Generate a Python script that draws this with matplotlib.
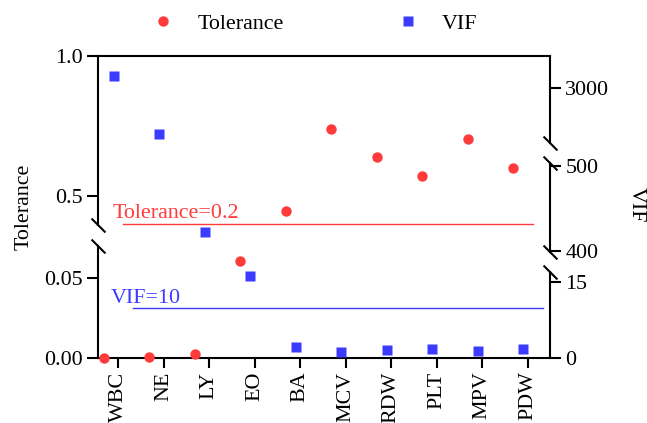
import matplotlib
matplotlib.use("Agg")
import matplotlib.pyplot as plt
from matplotlib.lines import Line2D
import numpy as np

plt.rcParams['font.family'] = ['Liberation Serif', 'DejaVu Serif']
FS = 15.8

# ---------------- data ----------------
categories = ['WBC', 'NE', 'LY', 'EO', 'BA', 'MCV', 'RDW', 'PLT', 'MPV', 'PDW']
tolerance = [0.0003, 0.001, 0.0025, 0.061, 0.446, 0.738, 0.637, 0.569, 0.701, 0.600]
vif = [3117, 2534, 422, 16.2, 2.29, 1.30, 1.64, 1.84, 1.44, 1.78]

left_ticks_top = [0.5, 1.0]
left_labels_top = ['0.5', '1.0']
left_ticks_bot = [0.0, 0.05]
left_labels_bot = ['0.00', '0.05']
right_ticks_top = [3000]
right_ticks_mid = [400, 500]
right_ticks_bot = [0, 15]

tol_ref_label = 'Tolerance=0.2'
tol_ref_y = 0.40        # drawn height on upper tolerance segment
vif_ref_label = 'VIF=10'
vif_ref_y = 10

# ---------------- layout ----------------
W, H = 647, 423
fig = plt.figure(figsize=(W / 100, H / 100), dpi=100)

X0, X1 = 97.7, 550.0


def rect(ytop, ybot):
    return [X0 / W, 1 - ybot / H, (X1 - X0) / W, (ybot - ytop) / H]


xlim = (-0.453, 9.49)
red = '#FF3B3B'
blue = '#3B3BFF'
LW = 1.5

base = fig.add_axes(rect(55.7, 358.3))
base.set_xlim(*xlim)
base.set_ylim(0, 1)
base.patch.set_visible(False)
for s in ['left', 'right']:
    base.spines[s].set_visible(False)
for s in ['top', 'bottom']:
    base.spines[s].set_linewidth(LW)
base.set_yticks([])
base.set_xticks(np.arange(len(categories)))
base.set_xticklabels(categories, rotation=90, fontsize=FS)
base.tick_params(axis='x', direction='out', length=7.5, width=LW, pad=2)

# segments: (ytop_px, ybot_px, ylim, side)
segs = {
    'L_top': (55.7, 225.0, (0.3954, 1.0), 'left'),
    'L_bot': (246.0, 358.3, (0.0, 0.0702), 'left'),
    'R_top': (55.7, 143.0, (2447, 3320), 'right'),
    'R_mid': (163.0, 252.0, (398.5, 503.5), 'right'),
    'R_bot': (272.0, 358.3, (0.0, 17.03), 'right'),
}
axes = {}
for name, (yt, yb, yl, side) in segs.items():
    a = fig.add_axes(rect(yt, yb), sharex=base)
    a.set_ylim(*yl)
    a.patch.set_visible(False)
    for s in ['top', 'bottom', 'left', 'right']:
        a.spines[s].set_visible(s == side)
    a.spines[side].set_linewidth(LW)
    a.tick_params(axis='x', bottom=False, labelbottom=False, top=False)
    if side == 'right':
        a.yaxis.tick_right()
    a.tick_params(axis='y', direction='out', length=8, width=LW, pad=3, labelsize=FS)
    axes[name] = a

axes['L_top'].set_yticks(left_ticks_top)
axes['L_top'].set_yticklabels(left_labels_top)
axes['L_bot'].set_yticks(left_ticks_bot)
axes['L_bot'].set_yticklabels(left_labels_bot)
axes['R_top'].set_yticks(right_ticks_top)
axes['R_mid'].set_yticks(right_ticks_mid)
axes['R_bot'].set_yticks(right_ticks_bot)

# break marks
brk = dict(marker=[(-1, 1), (1, -1)], markersize=10, linestyle='none',
           color='k', mec='k', mew=LW, clip_on=False, zorder=5)
axes['L_top'].plot([0], [0], transform=axes['L_top'].transAxes, **brk)
axes['L_bot'].plot([0], [1], transform=axes['L_bot'].transAxes, **brk)
axes['R_top'].plot([1], [0], transform=axes['R_top'].transAxes, **brk)
axes['R_mid'].plot([1, 1], [0, 1], transform=axes['R_mid'].transAxes, **brk)
axes['R_bot'].plot([1], [1], transform=axes['R_bot'].transAxes, **brk)


def seg_for(value, names):
    for n in names:
        lo, hi = segs[n][2]
        if lo <= value <= hi:
            return axes[n]
    return axes[names[-1]]


x = np.arange(len(categories))
for xi, v in zip(x - 0.32, tolerance):
    a = seg_for(v, ['L_bot', 'L_top'])
    a.plot([xi], [v], 'o', color=red, markersize=7.5, mec='none', clip_on=False, zorder=6)
for xi, v in zip(x - 0.10, vif):
    a = seg_for(v, ['R_bot', 'R_mid', 'R_top'])
    a.plot([xi], [v], 's', color=blue, markersize=7.8, mec='none', clip_on=False, zorder=6)

# reference lines
axes['L_top'].plot([0.10, 9.12], [tol_ref_y, tol_ref_y], color=red, lw=1.0, clip_on=False)
axes['L_top'].text(-0.12, tol_ref_y + 0.022, tol_ref_label, color=red, fontsize=FS,
                   ha='left', va='baseline')
axes['R_bot'].plot([0.32, 9.34], [vif_ref_y, vif_ref_y], color=blue, lw=1.0, clip_on=False)
axes['R_bot'].text(-0.16, vif_ref_y + 0.9, vif_ref_label, color=blue, fontsize=FS,
                   ha='left', va='baseline')

# axis titles
fig.text(24 / W, 1 - 207 / H, 'Tolerance', rotation=90, ha='center', va='center', fontsize=FS)
fig.text(636 / W, 1 - 205 / H, 'VIF', rotation=270, ha='center', va='center', fontsize=FS)

# legend
handles = [Line2D([], [], marker='o', color=red, linestyle='none', markersize=7.5, mec='none'),
           Line2D([], [], marker='s', color=blue, linestyle='none', markersize=7.8, mec='none')]
fig.legend(handles, ['Tolerance', 'VIF'], loc='center', ncol=2, frameon=False,
           bbox_to_anchor=(312 / W, 1 - 24 / H), fontsize=FS, handlelength=1.5,
           handletextpad=0.8, columnspacing=4.9, borderpad=0)

fig.savefig('out.png', dpi=100)
